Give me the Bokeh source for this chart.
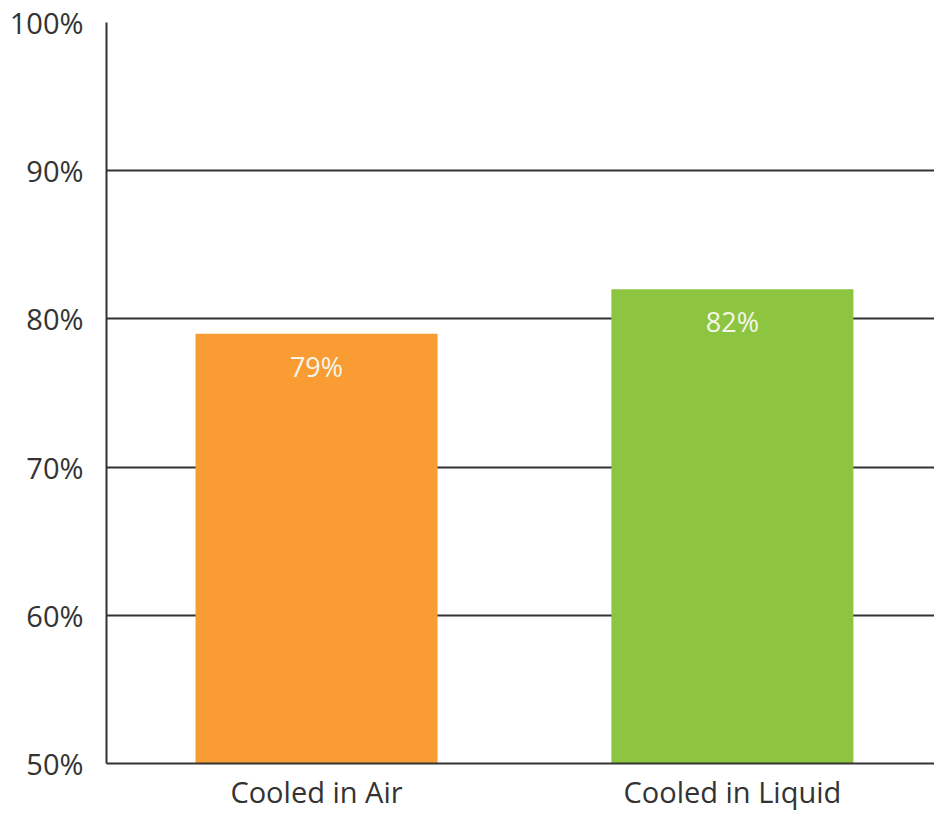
from bokeh.plotting import figure
from bokeh.models import Range1d, FixedTicker
from bokeh.core.properties import value
from bokeh.embed import file_html
from bokeh.resources import INLINE

# Data
categories = ["Cooled in Air", "Cooled in Liquid"]
percentages = [79, 82]
bar_colors = ["#F89C33", "#8DC540"]
y_ticks = [50, 60, 70, 80, 90, 100]
y_tick_labels = ["50%", "60%", "70%", "80%", "90%", "100%"]

positions = list(range(len(categories)))
value_labels = [f"{v}%" for v in percentages]

FONT = "Open Sans"
INK = "#333333"

p = figure(
    width=934, height=813,
    x_range=Range1d(-0.505, 1.486),
    y_range=Range1d(50, 100),
    min_border_left=106, min_border_right=0,
    min_border_top=22, min_border_bottom=49,
    output_backend="svg", toolbar_location=None,
)
p.outline_line_color = None
p.background_fill_color = "white"
p.border_fill_color = "white"

# Bars rising from the 50% baseline
p.vbar(x=positions, top=percentages, bottom=50, width=0.582,
       fill_color=bar_colors, line_color=None)

# Value labels inside the top of each bar
p.text(x=positions, y=percentages, text=value_labels,
       text_align="center", text_baseline="top", y_offset=14,
       text_color="#F4F6EA", text_font=value(FONT), text_font_size="27px")

# Y axis
p.yaxis.ticker = FixedTicker(ticks=y_ticks)
p.yaxis.major_label_overrides = {t: l for t, l in zip(y_ticks, y_tick_labels)}
p.yaxis.major_label_text_font = FONT
p.yaxis.major_label_text_font_size = "29px"
p.yaxis.major_label_text_color = INK
p.yaxis.major_label_standoff = 17
p.yaxis.major_tick_line_color = None
p.yaxis.minor_tick_line_color = None
p.yaxis.axis_line_color = INK
p.yaxis.axis_line_width = 2

# X axis
p.xaxis.ticker = FixedTicker(ticks=positions)
p.xaxis.major_label_overrides = {i: c for i, c in zip(positions, categories)}
p.xaxis.major_label_text_font = FONT
p.xaxis.major_label_text_font_size = "29px"
p.xaxis.major_label_text_color = INK
p.xaxis.major_label_standoff = 2
p.xaxis.major_tick_line_color = None
p.xaxis.minor_tick_line_color = None
p.xaxis.axis_line_color = INK
p.xaxis.axis_line_width = 2

# Grid
p.xgrid.grid_line_color = None
p.ygrid.grid_line_color = INK
p.ygrid.grid_line_width = 2

open("out.html", "w").write(file_html(p, INLINE))
